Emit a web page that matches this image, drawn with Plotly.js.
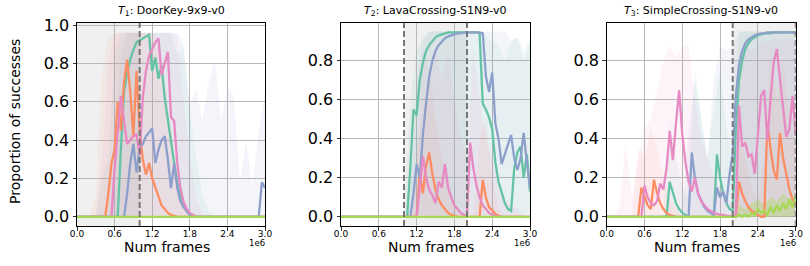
<!DOCTYPE html>
<html>
<head>
<meta charset="utf-8">
<script src="https://cdn.plot.ly/plotly-3.0.1.min.js"></script>
<style>html,body{margin:0;padding:0;background:#fff;}#chart{width:810px;height:266px;}</style>
</head>
<body>
<div id="chart"></div>
<script>
// x values in millions of frames
const framesM = [
 0.00,0.05,0.10,0.15,0.20,0.25,0.30,0.35,0.40,0.45,
 0.50,0.55,0.60,0.65,0.70,0.75,0.80,0.85,0.90,0.95,
 1.00,1.05,1.10,1.15,1.20,1.25,1.30,1.35,1.40,1.45,
 1.50,1.55,1.60,1.65,1.70,1.75,1.80,1.85,1.90,1.95,
 2.00,2.05,2.10,2.15,2.20,2.25,2.30,2.35,2.40,2.45,
 2.50,2.55,2.60,2.65,2.70,2.75,2.80,2.85,2.90,2.95,
 3.00];
const fillFramesM = [
 0.0,0.1,0.2,0.3,0.4,0.5,0.6,0.7,0.8,0.9,
 1.0,1.1,1.2,1.3,1.4,1.5,1.6,1.7,1.8,1.9,
 2.0,2.1,2.2,2.3,2.4,2.5,2.6,2.7,2.8,2.9,
 3.0];

const titles = ['<i>T</i><sub>1</sub>: DoorKey-9x9-v0','<i>T</i><sub>2</sub>: LavaCrossing-S1N9-v0','<i>T</i><sub>3</sub>: SimpleCrossing-S1N9-v0'];
const xTickVals = [0,0.6,1.2,1.8,2.4,3.0];
const xTickText = ['0.0','0.6','1.2','1.8','2.4','3.0'];
const yTickVals1 = [0,0.2,0.4,0.6,0.8,1.0];
const yTickText1 = ['0.0','0.2','0.4','0.6','0.8','1.0'];
const yTickVals23 = [0,0.2,0.4,0.6,0.8];
const yTickText23 = ['0.0','0.2','0.4','0.6','0.8'];

// ---- Subplot 1 mean lines ----
const s1Green = [
 0,0,0,0,0,0,0,0,0,0,
 0,0,0,0,0.35,0.65,0.75,0.82,0.87,0.91,
 0.92,0.93,0.94,0.95,0.76,0.83,0.72,0.79,0.62,0.50,
 0.40,0.28,0.18,0.11,0.06,0.03,0.015,0.005,0,0,
 0,0,0,0,0,0,0,0,0,0,
 0,0,0,0,0,0,0,0,0,0,
 0];
const s1Orange = [
 0,0,0,0,0,0,0,0,0,0,
 0.12,0.28,0.35,0.60,0.45,0.70,0.82,0.65,0.42,0.76,
 0.45,0.30,0.22,0.28,0.20,0.15,0.10,0.06,0.04,0.02,
 0.01,0.005,0,0,0,0,0,0,0,0,
 0,0,0,0,0,0,0,0,0,0,
 0,0,0,0,0,0,0,0,0,0,
 0];
const s1Blue = [
 0,0,0,0,0,0,0,0,0,0,
 0,0,0,0,0,0,0.12,0.28,0.38,0.23,
 0.36,0.38,0.42,0.44,0.46,0.28,0.35,0.40,0.42,0.30,
 0.15,0.28,0.15,0.08,0.05,0.03,0.01,0,0,0,
 0,0,0,0,0,0,0,0,0,0,
 0,0,0,0,0,0,0,0,0,0.18,
 0.15];
const s1Pink = [
 0,0,0,0,0,0,0,0,0,0,
 0,0,0.25,0.45,0.63,0.50,0.38,0.40,0.42,0.43,
 0.32,0.62,0.76,0.84,0.88,0.91,0.93,0.74,0.80,0.86,
 0.52,0.50,0.28,0.15,0.08,0.04,0.02,0.01,0,0,
 0,0,0,0,0,0,0,0,0,0,
 0,0,0,0,0,0,0,0,0,0,
 0];
const s1Lime = [
 0,0,0,0,0,0,0,0,0,0, 0,0,0,0,0,0,0,0,0,0, 0,0,0,0,0,0,0,0,0,0,
 0,0,0,0,0,0,0,0,0,0, 0,0,0,0,0,0,0,0,0,0, 0,0,0,0,0,0,0,0,0,0, 0];

// ---- Subplot 1 band tops ----
const f1Green = [0,0,0,0,0.2,0.3,0.85,0.96,0.96,0.96, 0.96,0.96,0.96,0.96,0.96,0.96,0.85,0.88,0.55,0.3, 0.12,0.03,0,0,0,0,0,0,0,0, 0];
const f1Orange = [0,0,0,0.1,0.75,0.93,0.96,0.96,0.96,0.96, 0.96,0.96,0.96,0.9,0.7,0.45,0.25,0.1,0.03,0, 0,0,0,0,0,0,0,0,0,0, 0];
const f1Blue = [0,0,0,0,0,0,0.4,0.85,0.96,0.96, 0.96,0.96,0.96,0.96,0.96,0.96,0.96,0.9,0.58,0.67, 0.5,0.7,0.82,0.5,0.68,0.63,0.18,0.4,0.16,0.45, 0.65];
const f1Pink = [0,0,0,0,0.3,0.8,0.95,0.96,0.96,0.96, 0.96,0.96,0.96,0.96,0.96,0.96,0.95,0.6,0.3,0.1, 0.02,0,0,0,0,0,0,0,0,0, 0];
const f1Lime = [0,0,0,0,0,0,0,0,0,0, 0,0,0,0,0,0,0,0,0,0, 0,0,0,0,0,0,0,0,0,0, 0];

// ---- Subplot 2 mean lines ----
const s2Green = [
 0,0,0,0,0,0,0,0,0,0,
 0,0,0,0,0,0,0,0,0,0,
 0,0,0.25,0.55,0.52,0.70,0.79,0.85,0.88,0.90,
 0.92,0.93,0.935,0.94,0.945,0.945,0.945,0.945,0.945,0.945,
 0.945,0.945,0.945,0.945,0.94,0.58,0.55,0.51,0.45,0.28,
 0.18,0.12,0.07,0.04,0.03,0.25,0.33,0.36,0.20,0.32,
 0.13];
const s2Orange = [
 0,0,0,0,0,0,0,0,0,0,
 0,0,0,0,0,0,0,0,0,0,
 0,0,0,0,0,0.22,0.12,0.26,0.33,0.22,
 0.14,0.09,0.06,0.04,0.02,0.01,0.005,0,0,0,
 0,0,0,0,0,0.19,0.10,0.05,0.03,0.015,
 0.005,0,0,0,0,0,0,0,0,0,
 0];
const s2Blue = [
 0,0,0,0,0,0,0,0,0,0,
 0,0,0,0,0,0,0,0,0,0,
 0,0,0,0.12,0.27,0.20,0.42,0.58,0.72,0.80,
 0.85,0.88,0.90,0.915,0.925,0.93,0.935,0.94,0.94,0.945,
 0.945,0.945,0.945,0.945,0.945,0.94,0.72,0.64,0.74,0.48,
 0.40,0.27,0.32,0.37,0.42,0.30,0.24,0.30,0.43,0.28,
 0.15];
const s2Pink = [
 0,0,0,0,0,0,0,0,0,0,
 0,0,0,0,0,0,0,0,0,0,
 0,0,0,0,0,0.15,0.31,0.20,0.14,0.11,
 0.07,0.18,0.15,0.27,0.15,0.10,0.06,0.04,0.02,0.01,
 0.005,0.38,0.25,0.16,0.10,0.06,0.04,0.02,0.01,0.005,
 0,0,0,0,0,0,0,0,0,0,
 0];
const s2Lime = s1Lime.slice();

// ---- Subplot 2 band tops ----
const f2Green = [0,0,0,0,0,0,0,0,0,0, 0,0.6,0.85,0.92,0.95,0.95,0.95,0.95,0.95,0.95, 0.95,0.95,0.95,0.93,0.9,0.88,0.8,0.9,0.92,0.85, 0.92];
const f2Orange = [0,0,0,0,0,0,0,0,0,0, 0,0,0.3,0.55,0.75,0.5,0.3,0.15,0.05,0, 0,0,0.4,0.5,0.2,0.05,0,0,0,0, 0];
const f2Blue = [0,0,0,0,0,0,0,0,0,0, 0,0.1,0.7,0.9,0.95,0.95,0.95,0.95,0.95,0.95, 0.95,0.95,0.95,0.95,0.95,0.95,0.95,0.9,0.92,0.8, 0.9];
const f2Pink = [0,0,0,0,0,0,0,0,0,0, 0,0,0.3,0.85,0.75,0.88,0.7,0.85,0.6,0.4, 0.3,0.85,0.6,0.4,0.3,0.2,0.1,0.05,0.05,0, 0];
const f2Lime = f1Lime.slice();

// ---- Subplot 3 mean lines ----
const s3Green = [
 0,0,0,0,0,0,0,0,0,0,
 0,0,0,0,0,0,0,0,0,0,
 0.18,0.12,0.07,0.04,0.02,0.01,0,0,0,0,
 0,0,0,0,0,0.32,0.20,0.12,0.07,0.04,
 0.03,0.45,0.70,0.80,0.86,0.89,0.91,0.92,0.93,0.935,
 0.94,0.94,0.94,0.945,0.945,0.945,0.945,0.945,0.945,0.945,
 0.945];
const s3Orange = [
 0,0,0,0,0,0,0,0,0,0,
 0,0.15,0.10,0.06,0.04,0.19,0.12,0.07,0.04,0.02,
 0.01,0.005,0,0,0,0,0,0,0,0,
 0,0,0,0,0,0,0,0,0,0,
 0,0,0.18,0.12,0.08,0.05,0.03,0.02,0.01,0,
 0,0.48,0.35,0.24,0.19,0.43,0.30,0.21,0.14,0.09,
 0.06];
const s3Blue = [
 0,0,0,0,0,0,0,0,0,0,
 0,0,0,0,0,0,0,0,0,0,
 0,0,0,0,0,0,0,0.33,0.20,0.12,
 0.08,0.05,0.03,0.02,0.01,0.15,0.10,0.13,0.07,0.22,
 0.32,0.62,0.78,0.85,0.89,0.91,0.92,0.93,0.935,0.94,
 0.94,0.945,0.945,0.945,0.945,0.945,0.945,0.945,0.945,0.945,
 0.94];
const s3Pink = [
 0,0,0,0,0,0,0,0,0,0,
 0,0,0.16,0.10,0.07,0.06,0.08,0.17,0.14,0.25,
 0.44,0.29,0.48,0.65,0.42,0.28,0.18,0.13,0.20,0.12,
 0.08,0.06,0.04,0.03,0.02,0.015,0.01,0.01,0.005,0.005,
 0,0.01,0.57,0.36,0.38,0.31,0.32,0.22,0.40,0.62,
 0.65,0.39,0.60,0.79,0.86,0.70,0.55,0.41,0.45,0.62,
 0.42];
const s3Lime = [
 0,0,0,0,0,0,0,0,0,0,
 0,0,0,0,0,0,0,0,0,0,
 0,0,0,0,0,0,0,0,0,0,
 0,0,0,0,0,0,0,0,0,0,
 0,0,0.01,0,0.01,0,0.02,0.01,0.04,0.02,
 0.03,0.01,0.05,0.02,0.06,0.03,0.07,0.04,0.09,0.05,
 0.10];

// ---- Subplot 3 band tops ----
const f3Green = [0,0,0,0,0,0,0,0,0,0, 0.5,0.3,0.15,0.1,0.78,0.5,0.3,0.55,0.75,0.45, 0.3,0.95,0.95,0.95,0.95,0.95,0.95,0.95,0.95,0.95, 0.95];
const f3Orange = [0,0,0,0,0,0.35,0.3,0.45,0.35,0.2, 0.1,0.05,0,0,0,0,0,0,0,0, 0,0.45,0.3,0.15,0.08,0.3,0.85,0.6,0.8,0.5, 0.35];
const f3Blue = [0,0,0,0,0,0,0,0,0,0, 0,0,0,0.45,0.7,0.5,0.3,0.7,0.88,0.85, 0.88,0.95,0.95,0.95,0.95,0.95,0.95,0.95,0.95,0.95, 0.95];
const f3Pink = [0,0,0.05,0.38,0.1,0.3,0.45,0.5,0.65,0.8, 0.88,0.82,0.87,0.88,0.6,0.4,0.3,0.2,0.15,0.1, 0.05,0.85,0.88,0.85,0.88,0.9,0.9,0.92,0.9,0.92, 0.9];
const f3Lime = [0,0,0,0,0,0,0,0,0,0, 0,0,0,0,0,0,0,0,0,0, 0,0.06,0.04,0.07,0.09,0.06,0.1,0.08,0.12,0.09, 0.12];

// shaded phase regions and phase boundaries (millions of frames)
const shadeRanges = [[0,1.0],[1.0,2.0],[2.0,3.0]];
const boundaries = [[1.0],[1.0,2.0],[2.0,3.0]];

const colors = {green:'#66c2a5', orange:'#fc8d62', blue:'#8da0cb', pink:'#e78ac3', lime:'#a6d854'};
const fillColors = {green:'rgba(102,194,165,0.09)', orange:'rgba(252,141,98,0.09)', blue:'rgba(141,160,203,0.10)', pink:'rgba(231,138,195,0.09)', lime:'rgba(166,216,84,0.35)'};

const subplots = [
  {lines:{green:s1Green,orange:s1Orange,blue:s1Blue,pink:s1Pink,lime:s1Lime}, fills:{green:f1Green,orange:f1Orange,blue:f1Blue,pink:f1Pink,lime:f1Lime}},
  {lines:{green:s2Green,orange:s2Orange,blue:s2Blue,pink:s2Pink,lime:s2Lime}, fills:{green:f2Green,orange:f2Orange,blue:f2Blue,pink:f2Pink,lime:f2Lime}},
  {lines:{green:s3Green,orange:s3Orange,blue:s3Blue,pink:s3Pink,lime:s3Lime}, fills:{green:f3Green,orange:f3Orange,blue:f3Blue,pink:f3Pink,lime:f3Lime}}
];

const W = 810, H = 266;
const xDom = [[77/W, 265/W],[341/W, 530/W],[606.7/W, 795.7/W]];
const yDom = [(H-226)/H, (H-22.7)/H];
const yRanges = [[-0.048,1.012],[-0.047,0.995],[-0.047,0.995]];

const traces = [];
const order = ['green','orange','blue','pink','lime'];
subplots.forEach((sp,i)=>{
  const xa = i===0?'x':'x'+(i+1), ya = i===0?'y':'y'+(i+1);
  order.forEach(k=>{
    traces.push({x:fillFramesM, y:sp.fills[k], xaxis:xa, yaxis:ya, type:'scatter', mode:'lines',
      line:{width:0, color:colors[k]}, fill:'tozeroy', fillcolor:fillColors[k], hoverinfo:'skip', showlegend:false});
  });
});
subplots.forEach((sp,i)=>{
  const xa = i===0?'x':'x'+(i+1), ya = i===0?'y':'y'+(i+1);
  order.forEach(k=>{
    traces.push({x:framesM, y:sp.lines[k], xaxis:xa, yaxis:ya, type:'scatter', mode:'lines',
      line:{width:2.3, color:colors[k]}, showlegend:false});
  });
});

const font = 'DejaVu Sans, sans-serif';
const layout = {
  width:W, height:H, margin:{l:0,r:0,t:0,b:0}, paper_bgcolor:'#fff', plot_bgcolor:'#fff',
  showlegend:false, font:{family:font, color:'#000'},
  shapes:[], annotations:[]
};
for(let i=0;i<3;i++){
  const sx = i===0?'':String(i+1);
  layout['xaxis'+sx] = {domain:xDom[i], anchor:'y'+sx, range:[0,3], tickvals:xTickVals, ticktext:xTickText,
    tickfont:{size:9, family:font}, ticks:'outside', ticklen:3.5, tickcolor:'#000', tickwidth:0.8, ticklabelstandoff:-4,
    showline:true, mirror:true, linecolor:'#000', linewidth:1, showgrid:true, gridcolor:'#b8b8b8', gridwidth:1, zeroline:false};
  layout['yaxis'+sx] = {domain:yDom, anchor:'x'+sx, range:yRanges[i],
    tickvals:i===0?yTickVals1:yTickVals23, ticktext:i===0?yTickText1:yTickText23,
    tickfont:{size:16, family:font}, ticks:'outside', ticklen:3.5, tickcolor:'#000', tickwidth:0.8,
    showline:true, mirror:true, linecolor:'#000', linewidth:1, showgrid:true, gridcolor:'#b8b8b8', gridwidth:1, zeroline:false};
  const xr = 'x'+sx;
  layout.shapes.push({type:'rect', xref:xr, yref:'y'+sx+' domain', x0:shadeRanges[i][0], x1:shadeRanges[i][1], y0:0, y1:1,
    fillcolor:'rgba(128,128,128,0.12)', line:{width:0}, layer:'below'});
  boundaries[i].forEach(b=>{
    layout.shapes.push({type:'line', xref:xr, yref:'y'+sx+' domain', x0:b, x1:b, y0:0, y1:1,
      line:{color:'#777', width:2, dash:'6px,3px'}, layer:'above'});
  });
  const cx = (xDom[i][0]+xDom[i][1])/2;
  layout.annotations.push({text:titles[i], xref:'paper', yref:'paper', x:cx, y:1-11/H, xanchor:'center', yanchor:'middle',
    showarrow:false, font:{size:11, family:font}});
  layout.annotations.push({text:'Num frames', xref:'paper', yref:'paper', x:cx-4/W, y:1-247/H, xanchor:'center', yanchor:'middle',
    showarrow:false, font:{size:14, family:font}});
  layout.annotations.push({text:'1e6', xref:'paper', yref:'paper', x:xDom[i][1]+2/W, y:1-243/H, xanchor:'right', yanchor:'middle',
    showarrow:false, font:{size:8.5, family:font}});
}
layout.annotations.push({text:'Proportion of successes', xref:'paper', yref:'paper', x:15/W, y:1-122/H, xanchor:'center', yanchor:'middle',
  textangle:-90, showarrow:false, font:{size:14, family:font}});

Plotly.newPlot('chart', traces, layout, {displayModeBar:false, staticPlot:true});
</script>
</body>
</html>
